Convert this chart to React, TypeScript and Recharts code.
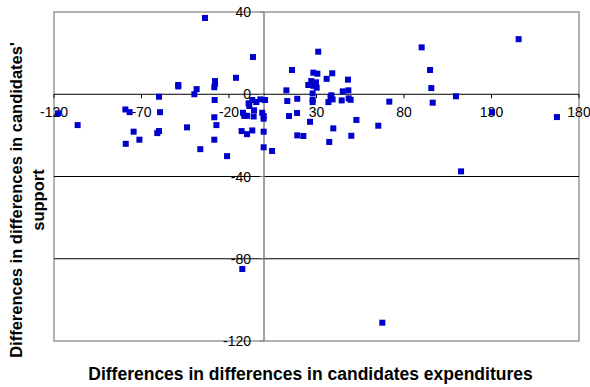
import {
  ScatterChart,
  Scatter,
  XAxis,
  YAxis,
  ReferenceLine,
  ReferenceArea,
  ReferenceDot,
} from 'recharts';

// differences in differences in expenditures (x) vs support (y)
const xValues = [
  -33.7, -6.3, 16, -16, -28, -28, -28.4, -49, -49, -38.5, -39.8, -60, -28.2, 12.8, 13.3,
  19, -6.7, -4.4, -2.1, 0.6, -8.8, -8.4, -5.7, -1, -12, -11.3, -9.7, -5.9, -0.2, -0.2,
  14.3, 18.9, -28.4, -27.2, -44, -59.4, -79.2, -76.8, -117.7, -106.5, -74.5, -60, -61, -79,
  -71.2, -36.4, -28.4, -21.1, -12.8, -9.7, -6.7, -0.2, -0.2, 4.6, 19,
  145.5, 90.1, 31, 94.9, 95.6, 96.4, 109.7, 71.6, 65.3, 52.8, 49.9, 130.3, 167.4, 112.6,
  28.2, 30.5, 39, 35.8, 48, 27, 29.7, 25.3, 28.2, 30.1, 45, 48.2, 27.8, 38.5, 38, 39.2,
  36.8, 44.4, 48.4, 49.5, 27.8, 27.8, 26.3, 39.6, 37.3, 22.5,
  -12.4, 67.6,
];

const yValues = [
  37.1, 18.1, 11.8, 8, 6.4, 5, 3.4, 4.5, 3.8, 2.5, 0, -1.2, -2.8, 1.9, -3.3,
  -2.2, -2.8, -3.8, -2.5, -2.8, -4.4, -5.7, -7.8, -9, -9, -10.5, -10.5, -10.8, -10.6, -11.9,
  -10.6, -9.1, -11.2, -15, -16.1, -8.7, -7.4, -8.7, -9.3, -15, -18.2, -17.9, -18.9, -24.1,
  -22.1, -26.7, -22.1, -30.1, -17.9, -19.4, -17.6, -18.2, -25.8, -27.6, -20,
  26.8, 22.8, 20.7, 11.8, 3, -4.1, -1, -3.6, -15.3, -12.5, -20.2, -8.7, -11.1, -37.5,
  10.5, 10, 10.2, 7.5, 7.1, 6.4, 5.8, 4.5, 4.1, 3.2, 1.4, 1.9, 0.4, -0.5, -1.5, -2.5,
  -3.8, -3, -2, -2.7, -2.8, -3.8, -13.4, -16.6, -23.2, -20.3,
  -85, -111.1,
];

const xTicks = [-120, -70, -20, 30, 80, 130, 180];
const yTicks = [40, 0, -40, -80, -120];
const gridValues = [-40, -80];

const points = xValues.map((x, i) => ({ x, y: yValues[i] }));

const FONT = 'Arial, "Liberation Sans", sans-serif';

const XTick = (props: any) => {
  const { cx, cy, value } = props;
  return (
    <g>
      <line x1={cx} y1={cy} x2={cx} y2={cy + 4} stroke="#000" />
      <text x={cx} y={cy + 23} textAnchor="middle" fontSize={14} fontFamily={FONT} fill="#000">
        {value}
      </text>
    </g>
  );
};

const YTick = (props: any) => {
  const { cx, cy, value } = props;
  return (
    <g>
      <line x1={cx - 4} y1={cy} x2={cx} y2={cy} stroke="#808080" />
      <text x={cx - 13} y={cy + 5} textAnchor="end" fontSize={14} fontFamily={FONT} fill="#000">
        {value}
      </text>
    </g>
  );
};

const Square = (props: any) => {
  const { cx, cy } = props;
  return <rect x={cx - 3} y={cy - 3} width={6} height={6} fill="#0000CC" />;
};

export default function App() {
  return (
    <div style={{ position: 'absolute', left: 0, top: 0, width: 590, height: 387, background: '#fff' }}>
      <ScatterChart width={590} height={387} margin={{ top: 12, right: 11, bottom: 46, left: 54 }}>
        <XAxis type="number" dataKey="x" domain={[-120, 180]} hide />
        <YAxis type="number" dataKey="y" domain={[-120, 40]} hide />
        <ReferenceArea
          x1={-120}
          x2={180}
          y1={-120}
          y2={40}
          fill="none"
          stroke="#999"
          strokeWidth={1.5}
          fillOpacity={0}
          ifOverflow="visible"
        />
        {gridValues.map((v) => (
          <ReferenceLine key={`g${v}`} y={v} stroke="#000" />
        ))}
        <ReferenceLine x={0} stroke="#808080" strokeWidth={1.5} />
        <ReferenceLine y={0} stroke="#000" />
        {xTicks.map((t) => (
          <ReferenceDot
            key={`x${t}`}
            x={t}
            y={0}
            r={0}
            ifOverflow="visible"
            shape={(p: any) => <XTick {...p} value={t} />}
          />
        ))}
        {yTicks.map((t) => (
          <ReferenceDot
            key={`y${t}`}
            x={0}
            y={t}
            r={0}
            ifOverflow="visible"
            shape={(p: any) => <YTick {...p} value={t} />}
          />
        ))}
        <Scatter data={points} shape={Square} isAnimationActive={false} />
      </ScatterChart>
      <div
        style={{
          position: 'absolute',
          left: 48,
          top: 363,
          width: 525,
          textAlign: 'center',
          fontFamily: FONT,
          fontWeight: 'bold',
          fontSize: 17.5,
          lineHeight: '22px',
          whiteSpace: 'nowrap',
        }}
      >
        Differences in differences in candidates expenditures
      </div>
      <div
        style={{
          position: 'absolute',
          left: 27 - 190,
          top: 200 - 22,
          width: 380,
          height: 44,
          textAlign: 'center',
          fontFamily: FONT,
          fontWeight: 'bold',
          fontSize: 16.5,
          lineHeight: '22px',
          whiteSpace: 'nowrap',
          transform: 'rotate(-90deg)',
        }}
      >
        Differences in differences in candidates'
        <br />
        support
      </div>
    </div>
  );
}
